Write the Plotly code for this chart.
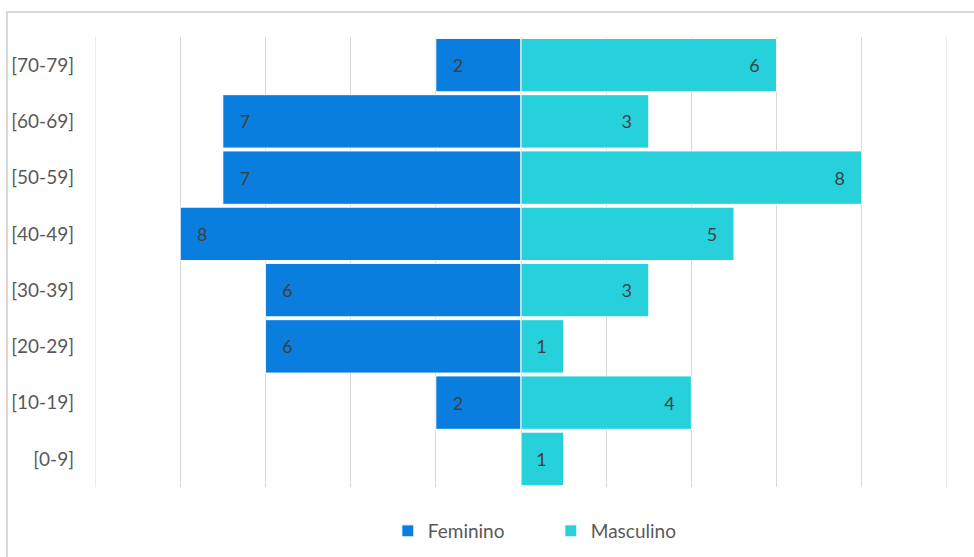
import plotly.graph_objects as go

categories = ["[0-9]", "[10-19]", "[20-29]", "[30-39]", "[40-49]", "[50-59]", "[60-69]", "[70-79]"]
feminino = [0, 2, 6, 6, 8, 7, 7, 2]
masculino = [1, 4, 1, 3, 5, 8, 3, 6]
x_limits = [-10, 10]

C_F = "#0A7EDF"
C_M = "#27D1DC"
TXT = "#404040"
GRID = "#D9D9D9"
PAD = "\u00a0\u00a0\u00a0"

fig = go.Figure()
fig.add_trace(go.Bar(
    y=categories, x=[-v for v in feminino], orientation="h", name="Feminino",
    marker=dict(color=C_F, line=dict(color="white", width=1)),
    text=[PAD + str(v) if v else "" for v in feminino], textposition="inside",
    insidetextanchor="end", textfont=dict(color=TXT, size=18),
    hoverinfo="skip"))
fig.add_trace(go.Bar(
    y=categories, x=masculino, orientation="h", name="Masculino",
    marker=dict(color=C_M, line=dict(color="white", width=1)),
    text=[str(v) + PAD if v else "" for v in masculino], textposition="inside",
    insidetextanchor="end", textfont=dict(color=TXT, size=18),
    hoverinfo="skip"))

shapes = [dict(type="rect", xref="paper", yref="paper",
               x0=(7 - 95) / 852, x1=(990 - 95) / 852,
               y0=(487 - 575) / 450, y1=(487 - 12) / 450,
               line=dict(color=GRID, width=2), fillcolor="rgba(0,0,0,0)",
               layer="below")]
for xv in x_limits:
    shapes.append(dict(type="line", xref="x", yref="paper", x0=xv, x1=xv, y0=0, y1=1,
                       line=dict(color=GRID, width=1), layer="below"))

fig.update_layout(
    width=974, height=557,
    margin=dict(l=95, r=27, t=37, b=70, autoexpand=False),
    barmode="relative", bargap=0.05,
    plot_bgcolor="white", paper_bgcolor="white",
    font=dict(family="Lato, Open Sans, sans-serif", size=19, color="#595959"),
    xaxis=dict(range=x_limits, dtick=2, showticklabels=False, showgrid=True,
               gridcolor=GRID, gridwidth=1, zeroline=False, fixedrange=True),
    yaxis=dict(showgrid=False, zeroline=False, ticks="", ticklabelstandoff=20,
               tickfont=dict(size=19, color="#595959")),
    legend=dict(orientation="h", x=0.535, xanchor="center",
                yref="container", y=(557 - 531) / 557, yanchor="middle",
                font=dict(size=19, color="#595959"), itemwidth=30,
                tracegroupgap=0, entrywidthmode="pixels", entrywidth=118),
    showlegend=True,
    uniformtext=dict(minsize=14, mode="show"),
    shapes=shapes,
)

fig.write_html("out.html")
